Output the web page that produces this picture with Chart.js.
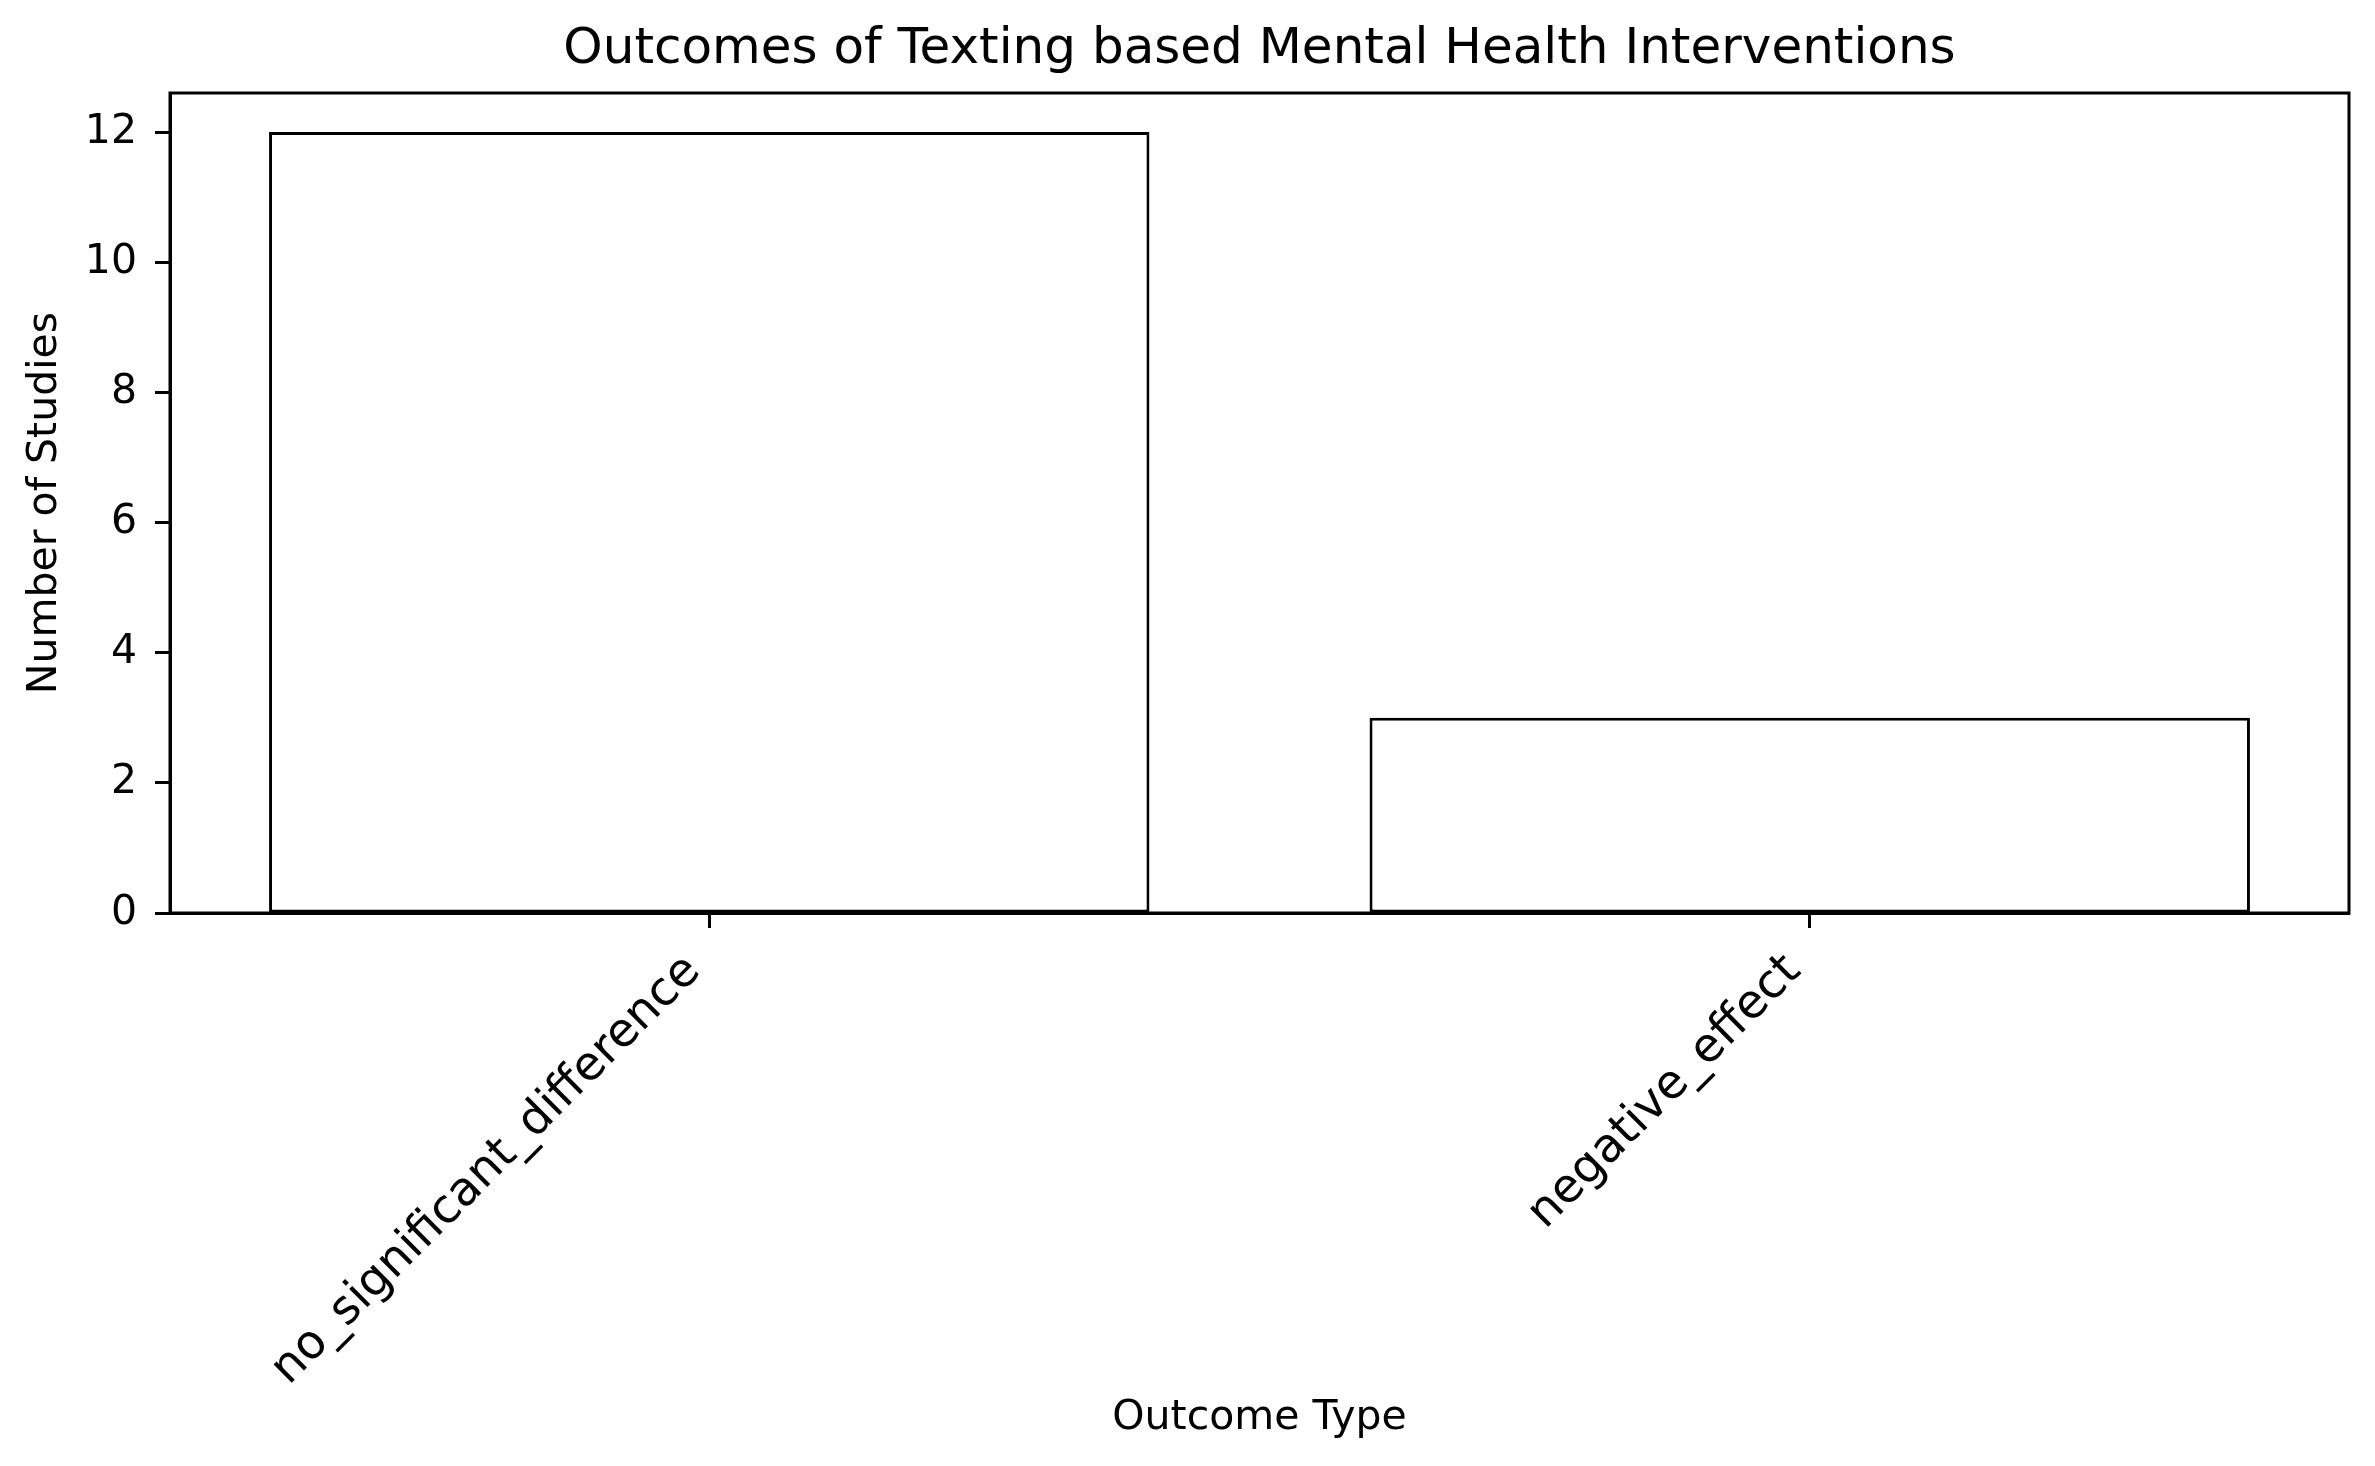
<!DOCTYPE html>
<html>
<head>
<meta charset="utf-8">
<script src="https://cdn.jsdelivr.net/npm/chart.js@4.4.1/dist/chart.umd.min.js"></script>
<style>
  html, body { margin: 0; padding: 0; background: #fff; }
  #wrap { width: 2375px; height: 1466px; }
</style>
</head>
<body>
<div id="wrap"><canvas id="chart" width="2375" height="1466"></canvas></div>
<script>
// data
const categories = ['no_significant_difference', 'negative_effect'];
const studyCounts = [12, 3];
const yTicks = [0, 2, 4, 6, 8, 10, 12];

const titleText = 'Outcomes of Texting based Mental Health Interventions';
const FONT = '"DejaVu Sans", sans-serif';

// top + right spines and the title, like matplotlib draws them
const frameAndTitle = {
    id: 'frameAndTitle',
    afterDraw(chart) {
        const ctx = chart.ctx;
        const a = chart.chartArea;
        ctx.save();
        ctx.strokeStyle = '#000';
        ctx.lineWidth = 3;
        ctx.strokeRect(a.left, a.top, a.right - a.left, a.bottom - a.top);
        ctx.fillStyle = '#000';
        ctx.font = '50px ' + FONT;
        ctx.textAlign = 'center';
        ctx.textBaseline = 'middle';
        ctx.fillText(titleText, (a.left + a.right) / 2, 50);
        ctx.restore();
    }
};

const ctx = document.getElementById('chart').getContext('2d');
new Chart(ctx, {
    type: 'bar',
    data: {
        datasets: [{
            label: 'Number of Studies',
            data: categories.map((c, i) => ({ x: i, y: studyCounts[i] })),
            backgroundColor: '#ffffff',
            borderColor: '#000000',
            borderWidth: 3,
            borderSkipped: false,
            barPercentage: 0.8,
            categoryPercentage: 1.0
        }]
    },
    options: {
        responsive: false,
        animation: false,
        layout: { padding: { top: 93, right: 26, left: 0, bottom: 0 } },
        plugins: {
            legend: { display: false },
            tooltip: { enabled: false },
            title: { display: false }
        },
        scales: {
            x: {
                type: 'linear',
                offset: false,
                min: -0.49,
                max: 1.49,
                afterBuildTicks(scale) {
                    scale.ticks = categories.map((c, i) => ({ value: i }));
                },
                afterFit(scale) { scale.height = 1466 - 913; },
                ticks: {
                    color: '#000',
                    font: { family: FONT, size: 47 },
                    minRotation: 45,
                    maxRotation: 45,
                    padding: 16,
                    labelOffset: -16,
                    autoSkip: false,
                    callback: (v) => categories[v]
                },
                grid: {
                    offset: false,
                    drawOnChartArea: false,
                    drawTicks: true,
                    tickLength: 15,
                    tickWidth: 3,
                    tickColor: '#000'
                },
                border: { display: true, color: '#000', width: 3 },
                title: {
                    display: true,
                    text: 'Outcome Type',
                    color: '#000',
                    font: { family: FONT, size: 41 },
                    padding: { top: 0, bottom: 23 }
                }
            },
            y: {
                min: 0,
                max: 12.6,
                afterBuildTicks(scale) {
                    scale.ticks = yTicks.map(v => ({ value: v }));
                },
                afterFit(scale) { scale.width = 170; },
                ticks: {
                    color: '#000',
                    font: { family: FONT, size: 41 },
                    padding: 18
                },
                grid: {
                    drawOnChartArea: false,
                    drawTicks: true,
                    tickLength: 15,
                    tickWidth: 3,
                    tickColor: '#000'
                },
                border: { display: true, color: '#000', width: 3 },
                title: {
                    display: true,
                    text: 'Number of Studies',
                    color: '#000',
                    font: { family: FONT, size: 41 },
                    padding: { top: 21, bottom: 0 }
                }
            }
        }
    },
    plugins: [frameAndTitle]
});
</script>
</body>
</html>
